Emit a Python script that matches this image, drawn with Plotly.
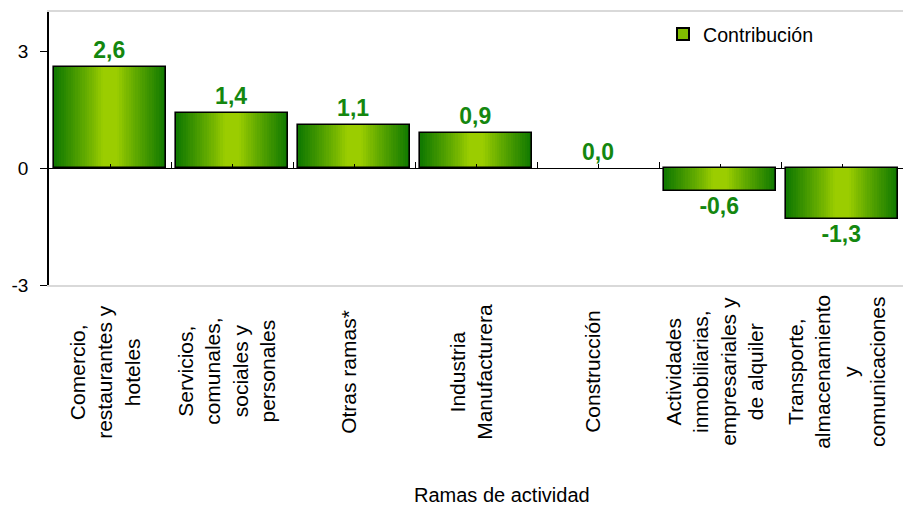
import plotly.graph_objects as go

categorias = [
    "Comercio,<br>restaurantes y<br>hoteles",
    "Servicios,<br>comunales,<br>sociales y<br>personales",
    "Otras ramas*",
    "Industria<br>Manufacturera",
    "Construcción",
    "Actividades<br>inmobiliarias,<br>empresariales y<br>de alquiler",
    "Transporte,<br>almacenamiento<br>y<br>comunicaciones",
]
contribucion = [2.6, 1.4, 1.1, 0.9, 0.0, -0.6, -1.3]
serie_nombre = "Contribución"
eje_x_titulo = "Ramas de actividad"
y_ticks = [-3, 0, 3]

n = len(categorias)
xs = list(range(n))

dark = (18, 122, 0)
light = (155, 205, 0)
FONT = "Liberation Sans, Arial, sans-serif"

fig = go.Figure()

# gradient: overlaid bars of decreasing width, dark edges -> light centre
full_w = 0.91
layers = 24
for k in range(layers):
    frac = 1 - k / layers
    if frac < 0.12:
        break
    t = min(1.0, max(0.0, (frac - 0.15) / 0.85))
    t = t ** 0.9
    col = tuple(round(light[i] + (dark[i] - light[i]) * t) for i in range(3))
    fig.add_trace(go.Bar(
        x=xs, y=contribucion, width=full_w * frac,
        marker=dict(color="rgb(%d,%d,%d)" % col, line=dict(width=0)),
        showlegend=False, hoverinfo="skip",
    ))

# outline + labels (decimal comma, plain hyphen)
etiquetas = [f"{v:.1f}".replace(".", ",") for v in contribucion]
fig.add_trace(go.Bar(
    x=xs, y=contribucion, width=full_w,
    marker=dict(color="rgba(0,0,0,0)",
                line=dict(color="black",
                          width=[1.6 if v != 0 else 0 for v in contribucion])),
    text=etiquetas, textposition="outside",
    textfont=dict(family=FONT, size=23, color="#14870f", weight="bold"),
    cliponaxis=False, showlegend=False, name=serie_nombre,
))

# invisible traces so the zero-line tick axes are drawn
for ax in ("x2", "x3"):
    fig.add_trace(go.Scatter(
        x=xs, y=contribucion, xaxis=ax, mode="markers",
        marker=dict(opacity=0), showlegend=False, hoverinfo="skip",
    ))

# legend swatch
fig.add_trace(go.Scatter(
    x=[xs[0]], y=[None], mode="markers", name=serie_nombre,
    marker=dict(symbol="square", size=11, color="rgb(130,190,0)",
                line=dict(color="black", width=1.2)),
))

# category labels (centred multi-line, rotated)
for xi, lab in zip(xs, categorias):
    fig.add_annotation(
        x=xi, xref="x", y=-0.318, yref="paper", text=lab, textangle=-90,
        showarrow=False, yanchor="middle", xanchor="center", align="center",
        xshift=-5,
        font=dict(family=FONT, size=21, color="black"),
    )

fig.add_annotation(
    x=0.53, xref="paper", y=-0.768, yref="paper", text=eje_x_titulo,
    showarrow=False, yanchor="middle", xanchor="center",
    font=dict(family=FONT, size=20, color="black"),
)

fig.update_layout(
    width=903, height=505,
    margin=dict(l=49, r=0, t=12, b=220),
    plot_bgcolor="white", paper_bgcolor="white",
    barmode="overlay", bargap=0,
    font=dict(family=FONT, size=19, color="black"),
    showlegend=True,
    legend=dict(x=0.719, y=0.99, xanchor="left", yanchor="top",
                bgcolor="rgba(0,0,0,0)", font=dict(size=19.6),
                itemsizing="constant", itemwidth=30),
    xaxis=dict(range=[-0.5, n - 0.5], showticklabels=False, ticks="",
               showgrid=False, zeroline=False,
               showline=True, linecolor="#d9d9d9", linewidth=2, mirror=True),
    xaxis2=dict(overlaying="x", anchor="free", position=3 / 7,
                range=[-0.5, n - 0.5], tickmode="array",
                tickvals=[i + 0.5 for i in range(n - 1)],
                ticks="inside", ticklen=6, tickcolor="black", tickwidth=1,
                showticklabels=False, showgrid=False, zeroline=False,
                showline=False),
    xaxis3=dict(overlaying="x", anchor="free", position=3 / 7,
                range=[-0.5, n - 0.5], tickmode="array", tickvals=xs,
                ticks="inside", ticklen=4, tickcolor="black", tickwidth=1,
                showticklabels=False, showgrid=False, zeroline=False,
                showline=False),
    yaxis=dict(range=[-3, 4], tickmode="array", tickvals=y_ticks,
               ticktext=[str(v) for v in y_ticks],
               ticks="outside", ticklen=7, tickcolor="black",
               ticklabelstandoff=8,
               showgrid=False, zeroline=True, zerolinecolor="black",
               zerolinewidth=1,
               showline=True, linecolor="black", linewidth=1.5,
               tickfont=dict(size=19)),
)

fig.write_html("out.html", config={"displayModeBar": False},
               post_script="document.body.style.margin='0';")
